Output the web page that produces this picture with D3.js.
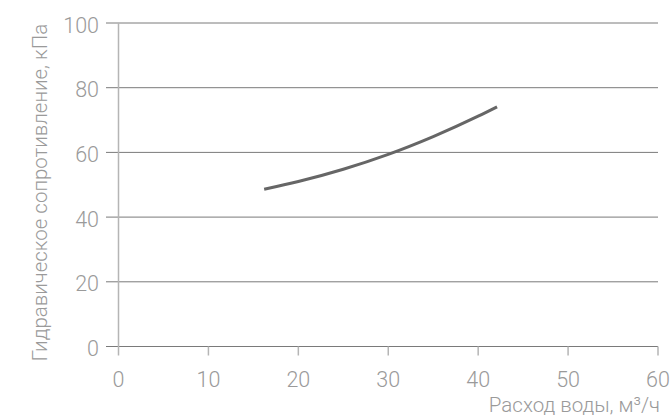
<!DOCTYPE html>
<html><head><meta charset="utf-8">
<script src="https://cdn.jsdelivr.net/npm/d3@7"></script>
<style>
html,body{margin:0;padding:0;background:#fff;}
text{font-family:Roboto,"Noto Sans",sans-serif;font-weight:300;}
</style></head>
<body><svg id="chart" width="671" height="417"></svg>
<script>
const flow = [16.2, 20, 25, 30, 35, 40, 42.1];
const pressure = [48.6, 51.0, 54.8, 59.4, 64.9, 71.2, 74.1];
const xTicks = [0, 10, 20, 30, 40, 50, 60];
const yTicks = [0, 20, 40, 60, 80, 100];
const xTitle = "Расход воды, м³/ч";
const yTitle = "Гидравическое сопротивление, кПа";

const svg = d3.select("#chart");
const x = d3.scaleLinear().domain([0, 60]).range([118.5, 658]);
const y = d3.scaleLinear().domain([0, 100]).range([346.5, 23]);

// horizontal grid lines
svg.append("g").selectAll("line").data(yTicks).join("line")
  .attr("x1", 106).attr("x2", x(60))
  .attr("y1", d => y(d)).attr("y2", d => y(d))
  .attr("stroke", "#7a7a7a").attr("stroke-width", 1);

// vertical axis line
svg.append("line").attr("x1", x(0)).attr("x2", x(0))
  .attr("y1", y(100)).attr("y2", y(0) + 9)
  .attr("stroke", "#b5b5b5").attr("stroke-width", 1.5);

// x ticks
svg.append("g").selectAll("line").data(xTicks.slice(1)).join("line")
  .attr("x1", d => x(d)).attr("x2", d => x(d))
  .attr("y1", y(0)).attr("y2", y(0) + 9)
  .attr("stroke", "#b5b5b5").attr("stroke-width", 1.5);

// y tick labels
svg.append("g").selectAll("text").data(yTicks).join("text")
  .attr("x", 99).attr("y", d => y(d) + 9.5)
  .attr("text-anchor", "end").attr("font-size", 21.5).attr("fill", "#9a9a9a")
  .text(d => d);

// x tick labels
svg.append("g").selectAll("text").data(xTicks).join("text")
  .attr("x", d => x(d)).attr("y", 387)
  .attr("text-anchor", "middle").attr("font-size", 21.5).attr("fill", "#9a9a9a")
  .text(d => d);

// axis titles
svg.append("text").attr("x", 660).attr("y", 412)
  .attr("text-anchor", "end").attr("font-size", 20.5).attr("fill", "#9a9a9a")
  .text(xTitle);
svg.append("text")
  .attr("transform", `translate(47,${192.5}) rotate(-90)`)
  .attr("text-anchor", "middle").attr("font-size", 20.5).attr("fill", "#9a9a9a")
  .text(yTitle);

// curve
const data = flow.map((f, i) => [f, pressure[i]]);
svg.append("path").datum(data)
  .attr("d", d3.line().x(d => x(d[0])).y(d => y(d[1])).curve(d3.curveMonotoneX))
  .attr("fill", "none").attr("stroke", "#666").attr("stroke-width", 3);
</script></body></html>
